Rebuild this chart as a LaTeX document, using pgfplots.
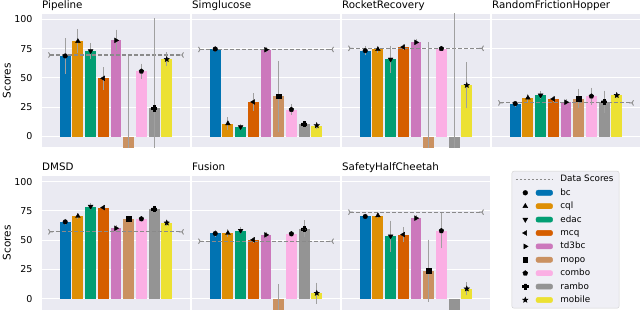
\documentclass[border=0pt]{standalone}
\usepackage{pgfplots}
\pgfplotsset{compat=1.18}
\usepackage{pgfplotstable}
\usepackage{fontspec}
\setmainfont{DejaVu Sans}

\definecolor{c0}{HTML}{0173B2}
\definecolor{c1}{HTML}{DE8F05}
\definecolor{c2}{HTML}{029E73}
\definecolor{c3}{HTML}{D55E00}
\definecolor{c4}{HTML}{CC78BC}
\definecolor{c5}{HTML}{CA9161}
\definecolor{c6}{HTML}{FBAFE4}
\definecolor{c7}{HTML}{949494}
\definecolor{c8}{HTML}{ECE133}
\definecolor{bgc}{HTML}{EAEAF2}
\definecolor{errc}{HTML}{A0A0A0}
\definecolor{dsc}{HTML}{8A8A8A}
\definecolor{legf}{HTML}{EFEFF5}
\definecolor{legb}{HTML}{D0D0D0}

\pgfdeclareplotmark{trir}{%
  \pgfpathmoveto{\pgfpointorigin}\pgfpathlineto{\pgfpointpolar{0}{\pgfplotmarksize}}%
  \pgfpathmoveto{\pgfpointorigin}\pgfpathlineto{\pgfpointpolar{120}{\pgfplotmarksize}}%
  \pgfpathmoveto{\pgfpointorigin}\pgfpathlineto{\pgfpointpolar{240}{\pgfplotmarksize}}%
  \pgfusepathqstroke}
\pgfdeclareplotmark{tril}{%
  \pgfpathmoveto{\pgfpointorigin}\pgfpathlineto{\pgfpointpolar{180}{\pgfplotmarksize}}%
  \pgfpathmoveto{\pgfpointorigin}\pgfpathlineto{\pgfpointpolar{60}{\pgfplotmarksize}}%
  \pgfpathmoveto{\pgfpointorigin}\pgfpathlineto{\pgfpointpolar{300}{\pgfplotmarksize}}%
  \pgfusepathqstroke}
\pgfdeclareplotmark{fstar}{%
  \pgfpathmoveto{\pgfpointpolar{90}{1.2\pgfplotmarksize}}%
  \pgfpathlineto{\pgfpointpolar{126}{0.5\pgfplotmarksize}}%
  \pgfpathlineto{\pgfpointpolar{162}{1.2\pgfplotmarksize}}%
  \pgfpathlineto{\pgfpointpolar{198}{0.5\pgfplotmarksize}}%
  \pgfpathlineto{\pgfpointpolar{234}{1.2\pgfplotmarksize}}%
  \pgfpathlineto{\pgfpointpolar{270}{0.5\pgfplotmarksize}}%
  \pgfpathlineto{\pgfpointpolar{306}{1.2\pgfplotmarksize}}%
  \pgfpathlineto{\pgfpointpolar{342}{0.5\pgfplotmarksize}}%
  \pgfpathlineto{\pgfpointpolar{18}{1.2\pgfplotmarksize}}%
  \pgfpathlineto{\pgfpointpolar{54}{0.5\pgfplotmarksize}}%
  \pgfpathclose\pgfusepathqfillstroke}
\pgfdeclareplotmark{fplus}{%
  \pgfpathmoveto{\pgfqpoint{-0.35\pgfplotmarksize}{\pgfplotmarksize}}%
  \pgfpathlineto{\pgfqpoint{0.35\pgfplotmarksize}{\pgfplotmarksize}}%
  \pgfpathlineto{\pgfqpoint{0.35\pgfplotmarksize}{0.35\pgfplotmarksize}}%
  \pgfpathlineto{\pgfqpoint{\pgfplotmarksize}{0.35\pgfplotmarksize}}%
  \pgfpathlineto{\pgfqpoint{\pgfplotmarksize}{-0.35\pgfplotmarksize}}%
  \pgfpathlineto{\pgfqpoint{0.35\pgfplotmarksize}{-0.35\pgfplotmarksize}}%
  \pgfpathlineto{\pgfqpoint{0.35\pgfplotmarksize}{-\pgfplotmarksize}}%
  \pgfpathlineto{\pgfqpoint{-0.35\pgfplotmarksize}{-\pgfplotmarksize}}%
  \pgfpathlineto{\pgfqpoint{-0.35\pgfplotmarksize}{-0.35\pgfplotmarksize}}%
  \pgfpathlineto{\pgfqpoint{-\pgfplotmarksize}{-0.35\pgfplotmarksize}}%
  \pgfpathlineto{\pgfqpoint{-\pgfplotmarksize}{0.35\pgfplotmarksize}}%
  \pgfpathlineto{\pgfqpoint{-0.35\pgfplotmarksize}{0.35\pgfplotmarksize}}%
  \pgfpathclose\pgfusepathqfillstroke}

\pgfplotsset{
  a0/.style={fill=c0}, a1/.style={fill=c1}, a2/.style={fill=c2},
  a3/.style={fill=c3}, a4/.style={fill=c4}, a5/.style={fill=c5},
  a6/.style={fill=c6}, a7/.style={fill=c7}, a8/.style={fill=c8},
  k0/.style={mark=*, mark size=2.3pt},
  k1/.style={mark=triangle*, mark size=2.7pt},
  k2/.style={mark=triangle*, mark size=2.7pt, every mark/.append style={rotate=180}},
  k3/.style={mark=triangle*, mark size=2.7pt, every mark/.append style={rotate=90}},
  k4/.style={mark=triangle*, mark size=2.7pt, every mark/.append style={rotate=-90}},
  k5/.style={mark=square*, mark size=2.2pt},
  k6/.style={mark=pentagon*, mark size=2.5pt},
  k7/.style={mark=fplus, mark size=2.6pt},
  k8/.style={mark=fstar, mark size=2.3pt},
  panel/.style={
    width=148pt, height=133.3pt, scale only axis, anchor=south west,
    xmin=-1.83, xmax=9.83, ymin=-9.2, ymax=104.6,
    axis background/.style={fill=bgc},
    axis line style={draw=none},
    xtick=\empty, ytick={0,25,50,75,100},
    ymajorgrids, grid style={white, line width=1pt},
    major tick length=0pt,
    tick label style={font=\fontsize{9.5}{11}\selectfont},
    yticklabel style={inner xsep=0pt, anchor=east, xshift=-9.3pt},
    /pgf/number format/assume math mode=true,
    every axis title/.style={at={(0,1)}, anchor=base west, yshift=5.8pt, inner sep=0pt,
      font=\fontsize{10.3}{12}\selectfont},
    every axis y label/.style={at={(axis description cs:-0.2385,0.5)}, anchor=center, rotate=90,
      font=\fontsize{10.5}{12}\selectfont},
  },
  nolab/.style={yticklabels={}},
}

\newcommand\drawbars[1]{%
  \pgfplotsinvokeforeach{0,...,8}{%
    \addplot[ybar, bar width=0.86, bar shift=0pt, draw=none, a##1]
      table[x=x, y=v, restrict x to domain=##1:##1] {#1};
  }}
\newcommand\drawerr[1]{%
  \pgfplotsinvokeforeach{0,...,8}{%
    \addplot[only marks, black, k##1,
      error bars/.cd, y dir=both, y explicit,
      error bar style={errc, line width=0.9pt},
      error mark options={errc, mark size=2.2pt, line width=0.9pt}]
      table[x=x, y=v, y error=e, restrict x to domain=##1:##1] {#1};
  }}
\newcommand\dataline[1]{%
  \addplot[dsc, dash pattern=on 4pt off 2pt, line width=1.1pt] coordinates {(-1.2,#1) (9.2,#1)};
  \addplot[only marks, dsc, mark=trir, mark size=3pt, line width=0.9pt] coordinates {(-1.2,#1)};
  \addplot[only marks, dsc, mark=tril, mark size=3pt, line width=0.9pt] coordinates {(9.2,#1)};
}

\pgfplotstableread{
x v e
0 68.8 13.2
1 81.3 8.5
2 73.0 4.7
3 49.7 7.7
4 82.1 7.2
5 -20 86.8
6 55.7 4.7
7 24.1 74.8
8 65.9 4.0
}\tPipeline
\pgfplotstableread{
x v e
0 74.7 0.6
1 11.1 3.5
2 8.2 1.0
3 29.5 5.7
4 74.1 0.6
5 34.4 28.3
6 23.0 2.5
7 10.8 1.0
8 9.4 0.8
}\tSimglucose
\pgfplotstableread{
x v e
0 73.3 2.1
1 74.4 1.2
2 65.9 9.8
3 76.4 0.6
4 80.4 1.0
5 -20 98.7
6 75.0 0.5
7 -20 150
8 43.8 17.8
}\tRocket
\pgfplotstableread{
x v e
0 28.1 0.6
1 33.0 1.5
2 35.2 1.5
3 32.1 1.0
4 29.3 0.6
5 32.4 6.4
6 34.4 5.2
7 29.8 7.5
8 35.2 0.8
}\tHopper
\pgfplotstableread{
x v e
0 65.6 0.8
1 70.5 0.8
2 78.7 1.2
3 77.8 0.6
4 60.2 0.6
5 68.2 0.6
6 68.2 0.6
7 76.7 1.0
8 64.8 0.6
}\tDMSD
\pgfplotstableread{
x v e
0 55.7 0.8
1 56.0 1.5
2 58.2 1.2
3 50.3 0.6
4 54.5 0.8
5 -20 30.5
6 55.4 0.6
7 59.7 5.3
8 4.8 7.1
}\tFusion
\pgfplotstableread{
x v e
0 70.2 0.6
1 71.0 0.6
2 53.4 11.4
3 54.8 4.3
4 68.8 0.6
5 23.9 24.6
6 58.0 13.2
7 -20 0
8 8.5 3.7
}\tSafety

\newcommand\legimg[3]{% color, mark options
  \addlegendimage{legend image code/.code={%
    \fill[#1] (20pt,-2.6pt) rectangle (36.6pt,2.6pt);
    \draw[black, fill=black] plot[only marks, #2] coordinates {(9.3pt,0pt)};
  }}%
  \addlegendentry{#3}}

\begin{document}
\begin{tikzpicture}
\path[use as bounding box] (0pt,0pt) rectangle (640pt,311pt);

\begin{axis}[panel, at={(42pt,163.7pt)}, title={Pipeline}, ylabel={Scores}]
\drawbars{\tPipeline}
\dataline{69.6}
\drawerr{\tPipeline}
\end{axis}

\begin{axis}[panel, nolab, at={(192pt,163.7pt)}, title={Simglucose}]
\drawbars{\tSimglucose}
\dataline{74.3}
\drawerr{\tSimglucose}
\end{axis}

\begin{axis}[panel, nolab, at={(342pt,163.7pt)}, title={RocketRecovery}]
\drawbars{\tRocket}
\dataline{75.3}
\drawerr{\tRocket}
\end{axis}

\begin{axis}[panel, nolab, at={(492pt,163.7pt)}, title={RandomFrictionHopper}]
\drawbars{\tHopper}
\dataline{28.7}
\drawerr{\tHopper}
\end{axis}

\begin{axis}[panel, at={(42pt,1.5pt)}, title={DMSD}, ylabel={Scores}]
\drawbars{\tDMSD}
\dataline{57.1}
\drawerr{\tDMSD}
\end{axis}

\begin{axis}[panel, nolab, at={(192pt,1.5pt)}, title={Fusion}]
\drawbars{\tFusion}
\dataline{49.1}
\drawerr{\tFusion}
\end{axis}

\begin{axis}[panel, nolab, at={(342pt,1.5pt)}, title={SafetyHalfCheetah}]
\drawbars{\tSafety}
\dataline{73.9}
\drawerr{\tSafety}
\end{axis}

\begin{axis}[at={(0pt,0pt)}, anchor=south west, width=640pt, height=311pt, scale only axis,
  hide axis, xmin=0, xmax=1, ymin=0, ymax=1,
  legend cell align=left,
  legend style={at={(0.8836,0.2293)}, anchor=center, draw=legb, fill=legf,
    rounded corners=2pt, font=\fontsize{8.8}{10}\selectfont, row sep=0pt,
    column sep=5.4pt, inner xsep=3.7pt, inner ysep=1.5pt,
    nodes={inner xsep=2pt, inner ysep=2.2pt, text height=7pt, text depth=2pt}}]
\addlegendimage{legend image code/.code={%
  \draw[dsc, dash pattern=on 2.5pt off 1.5pt, line width=0.8pt] (0pt,0pt) -- (36.6pt,0pt);}}
\addlegendentry{Data Scores}
\legimg{c0}{mark=*, mark size=2.4pt}{bc}
\legimg{c1}{mark=triangle*, mark size=2.8pt}{cql}
\legimg{c2}{mark=triangle*, mark size=2.8pt, mark options={rotate=180}}{edac}
\legimg{c3}{mark=triangle*, mark size=2.8pt, mark options={rotate=90}}{mcq}
\legimg{c4}{mark=triangle*, mark size=2.8pt, mark options={rotate=-90}}{td3bc}
\legimg{c5}{mark=square*, mark size=2.3pt}{mopo}
\legimg{c6}{mark=pentagon*, mark size=2.6pt}{combo}
\legimg{c7}{mark=fplus, mark size=2.8pt}{rambo}
\legimg{c8}{mark=fstar, mark size=2.4pt}{mobile}
\end{axis}
\end{tikzpicture}
\end{document}
